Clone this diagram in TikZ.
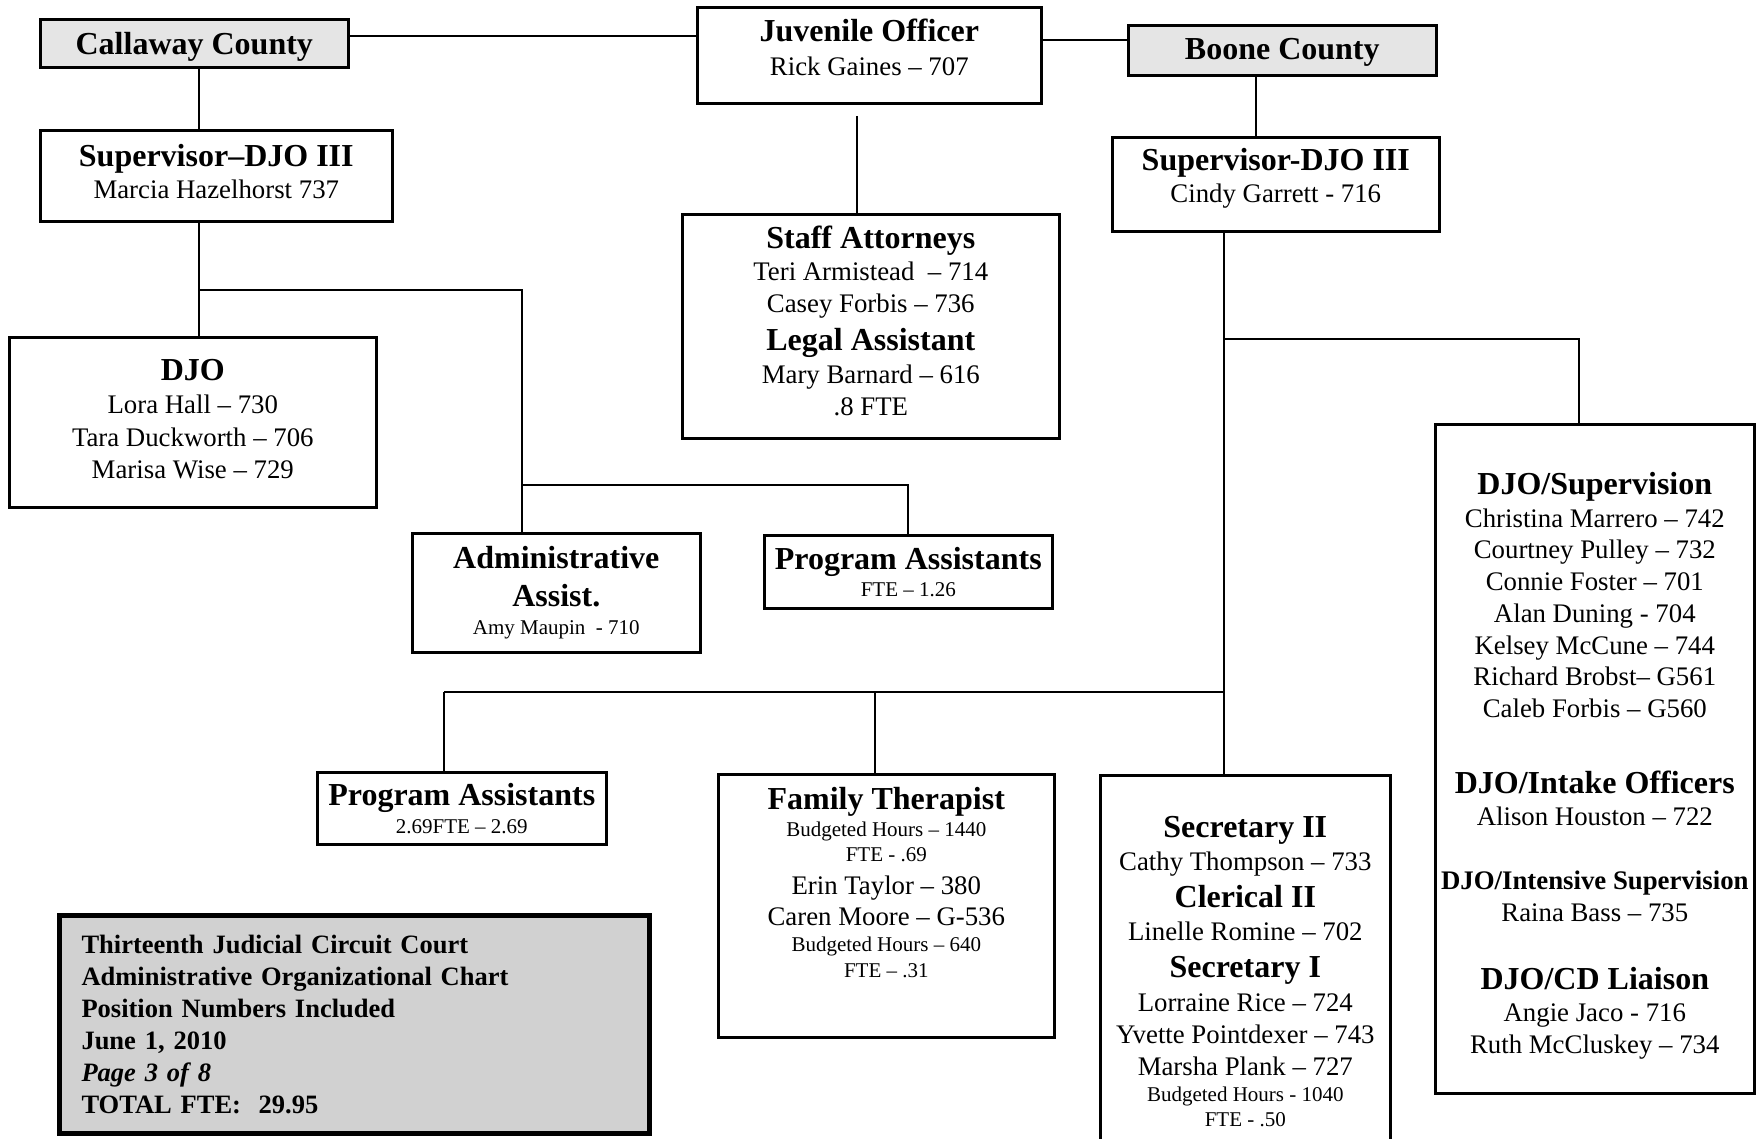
\documentclass[tikz,border=0pt]{standalone}
\usepackage{fontspec}
\setmainfont{Liberation Serif}
\newcommand\hd[1]{{\fontsize{32}{36}\selectfont\bfseries #1}}
\newcommand\sm[1]{{\fontsize{21}{25}\selectfont #1}}

\begin{document}
\begin{tikzpicture}[
    x=1pt, y=-1pt,
    box/.style={draw, line width=2.6pt, align=center, inner sep=0pt, anchor=north west,
        font=\fontsize{26.8}{31.7}\selectfont},
    county/.style={box, fill=black!10},
    link/.style={line width=1.8pt}
]
\useasboundingbox (0,0) rectangle (1756,1139);
\clip (0,0) rectangle (1756,1139);

\node[county, minimum width=308pt, minimum height=48pt] (cal) at (39,18)
    {\mbox{}\\[-2.7pt] \hd{Callaway County}};
\node[box, minimum width=344pt, minimum height=96pt] (jo) at (696,6)
    {\hd{Juvenile Officer}\\[2.7pt] Rick Gaines -- 707\\[-15.7pt] \mbox{}};
\node[county, minimum width=308pt, minimum height=50pt] (boone) at (1127,24)
    {\mbox{}\\[-6pt] \hd{Boone County}};
\node[box, minimum width=352pt, minimum height=91pt] (supc) at (39,129)
    {\hd{Supervisor--DJO III}\\ Marcia Hazelhorst 737\\[-22.7pt] \mbox{}};
\node[box, minimum width=327pt, minimum height=94pt] (supb) at (1111,136)
    {\hd{Supervisor-DJO III}\\ Cindy Garrett - 716\\[-14pt] \mbox{}};
\node[box, minimum width=377pt, minimum height=224pt] (staff) at (681,213)
    {\hd{Staff Attorneys}\\
     Teri Armistead\ \ -- 714\\[0.8pt]
     Casey Forbis -- 736\\[5.8pt]
     \hd{Legal Assistant}\\[1.3pt]
     Mary Barnard -- 616\\[0.9pt]
     .8 FTE\\[-20.5pt]
     \mbox{}};
\node[box, minimum width=367pt, minimum height=170pt] (djo) at (8,336)
    {\hd{DJO}\\[1.3pt]
     Lora Hall -- 730\\[1pt]
     Tara Duckworth -- 706\\[0.6pt]
     Marisa Wise -- 729\\[-24.7pt]
     \mbox{}};
\node[box, minimum width=288pt, minimum height=119pt] (admin) at (411,532)
    {\hd{Administrative}\\[6.4pt] \hd{Assist.}\\[-4pt] \sm{Amy Maupin\ \ - 710}};
\node[box, minimum width=288pt, minimum height=73pt] (pa1) at (763,534)
    {\hd{Program Assistants}\\[-4.3pt] \sm{FTE -- 1.26}};
\node[box, minimum width=319pt, minimum height=669pt] (djob) at (1434,423)
    {\mbox{}\\[4.3pt]
     \hd{DJO/Supervision}\\[1pt]
     Christina Marrero -- 742\\
     Courtney Pulley -- 732\\
     Connie Foster -- 701\\
     Alan Duning - 704\\
     Kelsey McCune -- 744\\
     Richard Brobst-- G561\\
     Caleb Forbis -- G560\\[44pt]
     \hd{DJO/Intake Officers}\\[1pt]
     Alison Houston -- 722\\[32pt]
     {\bfseries DJO/Intensive Supervision}\\
     Raina Bass -- 735\\[37pt]
     \hd{DJO/CD Liaison}\\
     Angie Jaco - 716\\
     Ruth McCluskey -- 734};
\node[box, minimum width=289pt, minimum height=72pt] (pa2) at (316,771)
    {\hd{Program Assistants}\\[-3.3pt] \sm{2.69FTE -- 2.69}};
\node[box, minimum width=336pt, minimum height=263pt] (fam) at (717,773)
    {\hd{Family Therapist}\\[-4.7pt]
     \sm{Budgeted Hours -- 1440}\\[-6.7pt]
     \sm{FTE - .69}\\[0.7pt]
     Erin Taylor -- 380\\[-0.7pt]
     Caren Moore -- G-536\\[-5.7pt]
     \sm{Budgeted Hours -- 640}\\[-5.7pt]
     \sm{FTE -- .31}\\[15pt]
     \mbox{}};
\node[box, minimum width=290pt, minimum height=392pt] (sec) at (1099,774)
    {\hd{Secretary II}\\[1.7pt]
     Cathy Thompson -- 733\\[5pt]
     \hd{Clerical II}\\[1.7pt]
     Linelle Romine -- 702\\[5pt]
     \hd{Secretary I}\\[1.7pt]
     Lorraine Rice -- 724\\[0.3pt]
     Yvette Pointdexer -- 743\\[0.3pt]
     Marsha Plank -- 727\\[-5.7pt]
     \sm{Budgeted Hours - 1040}\\[-6.7pt]
     \sm{FTE - .50}};
\node[box, fill=black!18, line width=5pt, align=left, text width=546pt, inner xsep=22pt,
      minimum height=218pt, font=\fontsize{26.5}{32}\selectfont\bfseries] (note) at (57,913)
    {Thirteenth Judicial Circuit Court\\
     Administrative Organizational Chart\\
     Position Numbers Included\\
     June 1, 2010\\
     \textit{Page 3 of 8}\\
     TOTAL FTE:\ \ 29.95};

\coordinate (hl) at (0,36);
\coordinate (hr) at (0,40);
\coordinate (calx) at (199,0);
\coordinate (boonex) at (1256,0);
\coordinate (jot) at (857,116);
\coordinate (cj) at (199,290);
\coordinate (aj) at (522,485);
\coordinate (bj) at (1224,339);
\coordinate (rj) at (1579,339);
\coordinate (lj) at (444,692);
\coordinate (fj) at (875,692);

\draw[link] (cal.east |- hl) -- (jo.west |- hl);
\draw[link] (jo.east |- hr) -- (boone.west |- hr);
\draw[link] (cal.south -| calx) -- (supc.north -| calx);
\draw[link] (boone.south -| boonex) -- (supb.north -| boonex);
\draw[link] (jot) -- (staff.north -| jot);
\draw[link] (supc.south -| cj) -- (djo.north -| cj);
\draw[link] (cj) -| (admin.north -| aj);
\draw[link] (aj) -| (pa1.north);
\draw[link] (supb.south -| bj) -- (sec.north -| bj);
\draw[link] (bj) -| (djob.north -| rj);
\draw[link] (lj) -- (lj -| bj);
\draw[link] (lj) -- (pa2.north -| lj);
\draw[link] (fj) -- (fam.north -| fj);
\end{tikzpicture}
\end{document}
